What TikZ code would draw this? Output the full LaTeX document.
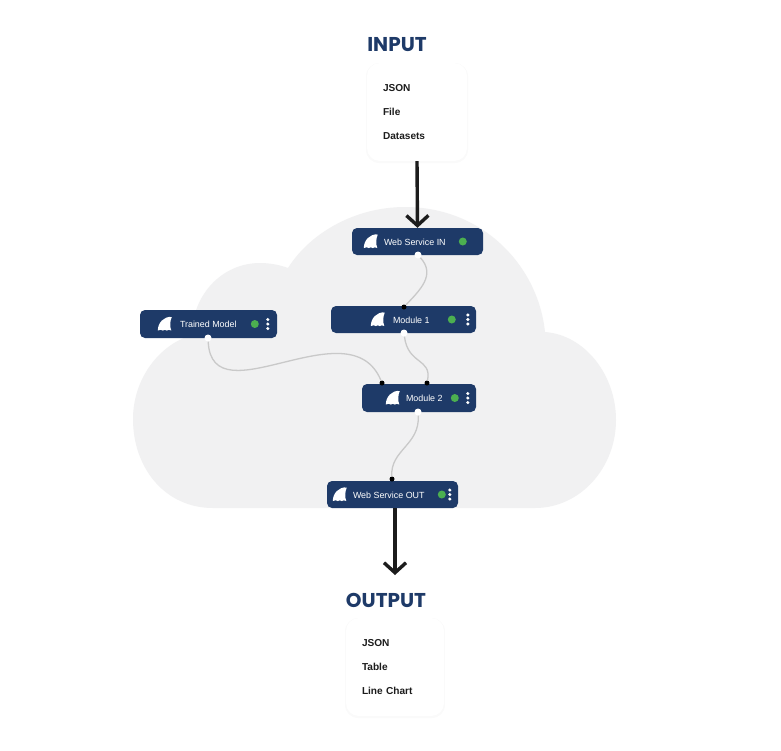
\documentclass[tikz,border=0pt]{standalone}
\usepackage{fontspec}
\setmainfont{Liberation Sans}
\newfontfamily\headfont{Poppins}
\usetikzlibrary{arrows.meta,positioning,shadows}

\definecolor{navy}{HTML}{1E3A68}
\definecolor{cloudgrey}{HTML}{F1F1F2}
\definecolor{statusgreen}{HTML}{4CAF50}
\definecolor{inkblack}{HTML}{1C1C1C}
\definecolor{wiregrey}{HTML}{C9C9C9}

\tikzset{
  heading/.style={font=\headfont\bfseries\fontsize{20}{20}\selectfont, text=navy, inner sep=0pt},
  card/.style={fill=white, rounded corners=13pt, minimum width=100pt, minimum height=98pt,
    text width=68pt, inner sep=0pt, align=left, text=inkblack,
    font=\bfseries\fontsize{10.1}{24}\selectfont,
    drop shadow={opacity=0.04, shadow xshift=0pt, shadow yshift=-1pt, shadow scale=1.02}},
  modbox/.style={fill=navy, rounded corners=5pt, minimum height=27pt, inner sep=0pt},
  modlabel/.style={text=white, inner sep=0pt, anchor=west, yshift=-0.8pt, font=\fontsize{8.9}{10}\selectfont},
  statusdot/.style={circle, fill=statusgreen, minimum size=8pt, inner sep=0pt},
  portin/.style={circle, fill=black, minimum size=5pt, inner sep=0pt},
  portout/.style={circle, fill=white, minimum size=7pt, inner sep=0pt},
  wire/.style={draw=wiregrey, line width=1.3pt},
  bigarrow/.style={draw=inkblack, line width=3.4pt, -{Straight Barb[length=10pt,width=22pt,line width=3.4pt]}},
  fin/.pic={
    \fill[white] (7,-7) .. controls (-1,-8) and (-7,-1) .. (-7,6.5)
      -- (-4,5.8) -- (-2,6.6) -- (0,5.8) -- (2,6.6) -- (4,5.8) -- (6.5,6.5)
      .. controls (5,3) and (5,-3) .. (7,-7) -- cycle;
  },
  menu/.pic={
    \foreach \d in {-4.5,0,4.5} \fill[white] (0,\d) circle (1.7);
  }
}

\begin{document}
\begin{tikzpicture}[x=1pt,y=-1pt]

  \useasboundingbox[fill=white] (0,0) rectangle (781,750);

  % cloud
  \fill[cloudgrey] (213,508) .. controls (165,508) and (133,468) .. (133,419)
    .. controls (133,380) and (158,345) .. (192,335)
    .. controls (192,295) and (222,263) .. (260,263)
    .. controls (270,263) and (280,265) .. (288,268)
    .. controls (310,233) and (355,207) .. (405,207)
    .. controls (482,207) and (538,265) .. (545,332)
    .. controls (585,335) and (616,375) .. (616,420)
    .. controls (616,468) and (580,508) .. (535,508) -- cycle;

  % input and output
  \node[heading] (in_title) at (397,45) {INPUT};
  \node[card] (card_in) at (417,112) {JSON\\File\\Datasets};
  \node[heading] (out_title) at (386,600) {OUTPUT};
  \node[card, minimum width=98pt, text width=66pt] (card_out) at (395,667) {JSON\\Table\\Line Chart};

  % modules
  \node[modbox, minimum width=131pt] (ws_in) at (417.5,241.5) {};
  \node[modbox, minimum width=137pt, minimum height=28pt] (trained) at (208.5,324) {};
  \node[modbox, minimum width=145pt] (mod_one) at (403.5,319.5) {};
  \node[modbox, minimum width=114pt, minimum height=28pt] (mod_two) at (419,398) {};
  \node[modbox, minimum width=131pt] (ws_out) at (392.5,494.5) {};

  \node[modlabel, right=32pt of ws_in.west, anchor=west] (ws_in_txt) {Web Service IN};
  \node[modlabel, right=40pt of trained.west, anchor=west] (trained_txt) {Trained Model};
  \node[modlabel, right=62pt of mod_one.west, anchor=west] (mod_one_txt) {Module 1};
  \node[modlabel, right=44pt of mod_two.west, anchor=west] (mod_two_txt) {Module 2};
  \node[modlabel, right=26pt of ws_out.west, anchor=west] (ws_out_txt) {Web Service OUT};

  \pic at ([xshift=19pt]ws_in.west) {fin};
  \pic at ([xshift=25pt]trained.west) {fin};
  \pic at ([xshift=47pt]mod_one.west) {fin};
  \pic at ([xshift=31pt]mod_two.west) {fin};
  \pic at ([xshift=13pt]ws_out.west) {fin};

  \node[statusdot] (ws_in_dot) at ([xshift=111pt]ws_in.west) {};
  \node[statusdot] (trained_dot) at ([xshift=115pt]trained.west) {};
  \node[statusdot] (mod_one_dot) at ([xshift=121pt]mod_one.west) {};
  \node[statusdot] (mod_two_dot) at ([xshift=93pt]mod_two.west) {};
  \node[statusdot] (ws_out_dot) at ([xshift=115pt]ws_out.west) {};

  \pic at ([xshift=128pt]trained.west) {menu};
  \pic at ([xshift=137pt]mod_one.west) {menu};
  \pic at ([xshift=106pt]mod_two.west) {menu};
  \pic at ([xshift=123pt]ws_out.west) {menu};

  % ports
  \node[portout] (ws_in_out) at (418,255) {};
  \node[portin] (mod_one_in) at (404,307) {};
  \node[portout] (mod_one_out) at (404,333) {};
  \node[portout] (trained_out) at (208,338) {};
  \node[portin] (mod_two_ina) at (382,383) {};
  \node[portin] (mod_two_inb) at (427,383) {};
  \node[portout] (mod_two_out) at (418,412) {};
  \node[portin] (ws_out_in) at (392,479) {};
  \coordinate (arrow_end) at (395,575);

  % connect the nodes
  \draw[wire] (ws_in_out) .. controls (436,275) and (420,290) .. (mod_one_in);
  \draw[wire] (mod_one_out) .. controls (408,365) and (432,358) .. (mod_two_inb);
  \draw[wire] (trained_out) .. controls (212,420) and (350,305) .. (mod_two_ina);
  \draw[wire] (mod_two_out) .. controls (420,445) and (390,450) .. (ws_out_in);

  \draw[bigarrow] (card_in.south) -- (ws_in.north);
  \draw[bigarrow] (ws_out.south -| arrow_end) -- (arrow_end);

\end{tikzpicture}
\end{document}
